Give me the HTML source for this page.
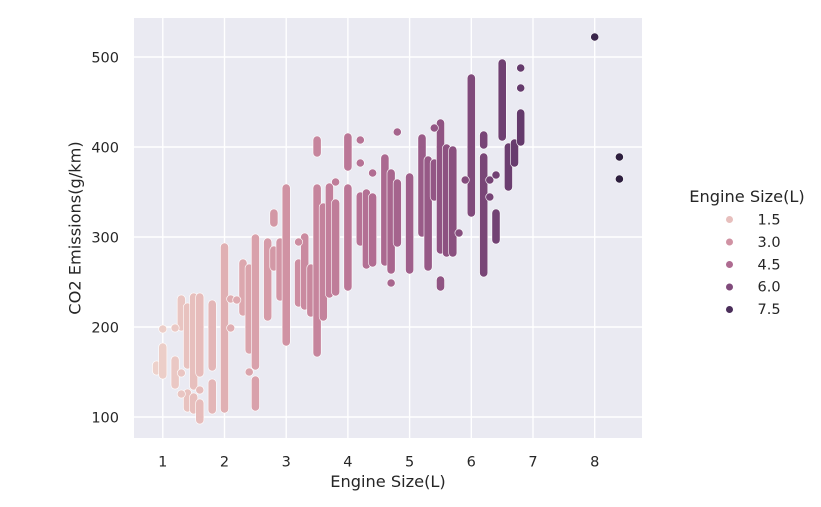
<!DOCTYPE html>
<html>
<head>
<meta charset="utf-8">
<style>
  html,body{margin:0;padding:0;background:#ffffff;}
  svg{display:block;}
  text{font-family:"DejaVu Sans","Liberation Sans",sans-serif;fill:#262626;}
</style>
</head>
<body>
<svg width="821" height="507" viewBox="0 0 821 507" xmlns="http://www.w3.org/2000/svg">
  <rect x="0" y="0" width="821" height="507" fill="#ffffff"/>
  <rect x="134" y="18" width="508" height="420" fill="#eaeaf2"/>
  <g stroke="#ffffff" stroke-width="1.4">
    <line x1="162.8" y1="18" x2="162.8" y2="438"/>
    <line x1="224.5" y1="18" x2="224.5" y2="438"/>
    <line x1="286.2" y1="18" x2="286.2" y2="438"/>
    <line x1="347.9" y1="18" x2="347.9" y2="438"/>
    <line x1="409.6" y1="18" x2="409.6" y2="438"/>
    <line x1="471.3" y1="18" x2="471.3" y2="438"/>
    <line x1="533.0" y1="18" x2="533.0" y2="438"/>
    <line x1="594.7" y1="18" x2="594.7" y2="438"/>
    <line x1="134" y1="57" x2="642" y2="57"/>
    <line x1="134" y1="147" x2="642" y2="147"/>
    <line x1="134" y1="237" x2="642" y2="237"/>
    <line x1="134" y1="327" x2="642" y2="327"/>
    <line x1="134" y1="417" x2="642" y2="417"/>
  </g>

  <g fill="none" stroke-linecap="round">
    <path d="M156.6 365V371" stroke="#fff" stroke-width="8.8"/><path d="M156.6 365V371" stroke="#edd1cb" stroke-width="7.6"/>
    <path d="M162.8 347V375" stroke="#fff" stroke-width="8.8"/><path d="M162.8 347V375" stroke="#eccec8" stroke-width="7.6"/>
    <path d="M175.1 360V385" stroke="#fff" stroke-width="8.8"/><path d="M175.1 360V385" stroke="#eac8c4" stroke-width="7.6"/>
    <path d="M181.3 299V327" stroke="#fff" stroke-width="8.8"/><path d="M181.3 299V327" stroke="#e9c5c2" stroke-width="7.6"/>
    <path d="M187.5 307V365M187.5 393V408" stroke="#fff" stroke-width="8.8"/><path d="M187.5 307V365M187.5 393V408" stroke="#e8c2bf" stroke-width="7.6"/>
    <path d="M193.7 297V386M193.7 397V410" stroke="#fff" stroke-width="8.8"/><path d="M193.7 297V386M193.7 397V410" stroke="#e7bfbd" stroke-width="7.6"/>
    <path d="M199.8 297V373M199.8 403V420" stroke="#fff" stroke-width="8.8"/><path d="M199.8 297V373M199.8 403V420" stroke="#e6bcbb" stroke-width="7.6"/>
    <path d="M212.2 304V367M212.2 383V410" stroke="#fff" stroke-width="8.8"/><path d="M212.2 304V367M212.2 383V410" stroke="#e3b6b7" stroke-width="7.6"/>
    <path d="M224.5 247V409" stroke="#fff" stroke-width="8.8"/><path d="M224.5 247V409" stroke="#e0b0b3" stroke-width="7.6"/>
    <path d="M243.0 263V312" stroke="#fff" stroke-width="8.8"/><path d="M243.0 263V312" stroke="#dca7ae" stroke-width="7.6"/>
    <path d="M249.2 268V350" stroke="#fff" stroke-width="8.8"/><path d="M249.2 268V350" stroke="#daa4ac" stroke-width="7.6"/>
    <path d="M255.4 238V366M255.4 380V407" stroke="#fff" stroke-width="8.8"/><path d="M255.4 238V366M255.4 380V407" stroke="#d9a1ab" stroke-width="7.6"/>
    <path d="M267.7 242V317" stroke="#fff" stroke-width="8.8"/><path d="M267.7 242V317" stroke="#d59ba8" stroke-width="7.6"/>
    <path d="M273.9 213V223M273.9 250V267" stroke="#fff" stroke-width="8.8"/><path d="M273.9 213V223M273.9 250V267" stroke="#d398a6" stroke-width="7.6"/>
    <path d="M280.1 242V297" stroke="#fff" stroke-width="8.8"/><path d="M280.1 242V297" stroke="#d295a5" stroke-width="7.6"/>
    <path d="M286.2 188V342" stroke="#fff" stroke-width="8.8"/><path d="M286.2 188V342" stroke="#d092a3" stroke-width="7.6"/>
    <path d="M298.6 263V303" stroke="#fff" stroke-width="8.8"/><path d="M298.6 263V303" stroke="#cc8da1" stroke-width="7.6"/>
    <path d="M304.7 237V306" stroke="#fff" stroke-width="8.8"/><path d="M304.7 237V306" stroke="#ca8aa0" stroke-width="7.6"/>
    <path d="M310.9 268V313" stroke="#fff" stroke-width="8.8"/><path d="M310.9 268V313" stroke="#c8889e" stroke-width="7.6"/>
    <path d="M317.1 140V153M317.1 188V353" stroke="#fff" stroke-width="8.8"/><path d="M317.1 140V153M317.1 188V353" stroke="#c6859d" stroke-width="7.6"/>
    <path d="M323.3 207V317" stroke="#fff" stroke-width="8.8"/><path d="M323.3 207V317" stroke="#c4829c" stroke-width="7.6"/>
    <path d="M329.4 187V294" stroke="#fff" stroke-width="8.8"/><path d="M329.4 187V294" stroke="#c27f9b" stroke-width="7.6"/>
    <path d="M335.6 203V292" stroke="#fff" stroke-width="8.8"/><path d="M335.6 203V292" stroke="#bf7d99" stroke-width="7.6"/>
    <path d="M347.9 137V167M347.9 188V287" stroke="#fff" stroke-width="8.8"/><path d="M347.9 137V167M347.9 188V287" stroke="#bb7797" stroke-width="7.6"/>
    <path d="M360.3 196V242" stroke="#fff" stroke-width="8.8"/><path d="M360.3 196V242" stroke="#b67295" stroke-width="7.6"/>
    <path d="M366.4 193V265" stroke="#fff" stroke-width="8.8"/><path d="M366.4 193V265" stroke="#b37094" stroke-width="7.6"/>
    <path d="M372.6 197V263" stroke="#fff" stroke-width="8.8"/><path d="M372.6 197V263" stroke="#b16d92" stroke-width="7.6"/>
    <path d="M384.9 158V262" stroke="#fff" stroke-width="8.8"/><path d="M384.9 158V262" stroke="#ab6990" stroke-width="7.6"/>
    <path d="M391.1 173V270" stroke="#fff" stroke-width="8.8"/><path d="M391.1 173V270" stroke="#a8668e" stroke-width="7.6"/>
    <path d="M397.3 183V243" stroke="#fff" stroke-width="8.8"/><path d="M397.3 183V243" stroke="#a5648d" stroke-width="7.6"/>
    <path d="M409.6 177V270" stroke="#fff" stroke-width="8.8"/><path d="M409.6 177V270" stroke="#9f5f8b" stroke-width="7.6"/>
    <path d="M422.0 138V233" stroke="#fff" stroke-width="8.8"/><path d="M422.0 138V233" stroke="#995b88" stroke-width="7.6"/>
    <path d="M428.1 160V267" stroke="#fff" stroke-width="8.8"/><path d="M428.1 160V267" stroke="#965986" stroke-width="7.6"/>
    <path d="M434.3 163V197" stroke="#fff" stroke-width="8.8"/><path d="M434.3 163V197" stroke="#935685" stroke-width="7.6"/>
    <path d="M440.5 123V250M440.5 280V287" stroke="#fff" stroke-width="8.8"/><path d="M440.5 123V250M440.5 280V287" stroke="#905483" stroke-width="7.6"/>
    <path d="M446.6 148V253" stroke="#fff" stroke-width="8.8"/><path d="M446.6 148V253" stroke="#8d5281" stroke-width="7.6"/>
    <path d="M452.8 150V253" stroke="#fff" stroke-width="8.8"/><path d="M452.8 150V253" stroke="#8a507f" stroke-width="7.6"/>
    <path d="M471.3 78V213" stroke="#fff" stroke-width="8.8"/><path d="M471.3 78V213" stroke="#804a7b" stroke-width="7.6"/>
    <path d="M483.7 135V145M483.7 157V273" stroke="#fff" stroke-width="8.8"/><path d="M483.7 135V145M483.7 157V273" stroke="#794677" stroke-width="7.6"/>
    <path d="M496.0 213V240" stroke="#fff" stroke-width="8.8"/><path d="M496.0 213V240" stroke="#724274" stroke-width="7.6"/>
    <path d="M502.2 63V137" stroke="#fff" stroke-width="8.8"/><path d="M502.2 63V137" stroke="#6f4072" stroke-width="7.6"/>
    <path d="M508.4 147V187" stroke="#fff" stroke-width="8.8"/><path d="M508.4 147V187" stroke="#6b3e70" stroke-width="7.6"/>
    <path d="M514.5 143V163" stroke="#fff" stroke-width="8.8"/><path d="M514.5 143V163" stroke="#683c6e" stroke-width="7.6"/>
    <path d="M520.7 113V142" stroke="#fff" stroke-width="8.8"/><path d="M520.7 113V142" stroke="#643a6c" stroke-width="7.6"/>
  </g>

  <g stroke="#ffffff" stroke-width="0.6">
    <circle cx="162.8" cy="329" r="4.1" fill="#eccec8"/>
    <circle cx="175.1" cy="328" r="4.1" fill="#eac8c4"/>
    <circle cx="181.3" cy="373" r="4.1" fill="#e9c5c2"/>
    <circle cx="181.3" cy="394" r="4.1" fill="#e9c5c2"/>
    <circle cx="199.8" cy="390" r="4.1" fill="#e6bcbb"/>
    <circle cx="230.7" cy="299" r="4.1" fill="#dfadb1"/>
    <circle cx="230.7" cy="328" r="4.1" fill="#dfadb1"/>
    <circle cx="236.8" cy="300" r="4.1" fill="#deaab0"/>
    <circle cx="249.2" cy="372" r="4.1" fill="#daa4ac"/>
    <circle cx="298.6" cy="242" r="4.1" fill="#cc8da1"/>
    <circle cx="335.6" cy="182" r="4.1" fill="#bf7d99"/>
    <circle cx="360.3" cy="140" r="4.1" fill="#b67295"/>
    <circle cx="360.3" cy="163" r="4.1" fill="#b67295"/>
    <circle cx="372.6" cy="173" r="4.1" fill="#b16d92"/>
    <circle cx="391.1" cy="283" r="4.1" fill="#a8668e"/>
    <circle cx="397.3" cy="132" r="4.1" fill="#a5648d"/>
    <circle cx="434.3" cy="128" r="4.1" fill="#935685"/>
    <circle cx="459.0" cy="233" r="4.1" fill="#864e7e"/>
    <circle cx="465.2" cy="180" r="4.1" fill="#834c7c"/>
    <circle cx="489.8" cy="180" r="4.1" fill="#764476"/>
    <circle cx="489.8" cy="197" r="4.1" fill="#764476"/>
    <circle cx="496.0" cy="175" r="4.1" fill="#724274"/>
    <circle cx="520.7" cy="68" r="4.1" fill="#643a6c"/>
    <circle cx="520.7" cy="88" r="4.1" fill="#643a6c"/>
    <circle cx="594.7" cy="37" r="4.1" fill="#3a254b"/>
    <circle cx="619.4" cy="157" r="4.1" fill="#2d1e3e"/>
    <circle cx="619.4" cy="179" r="4.1" fill="#2d1e3e"/>
  </g>

  <g font-size="14.5" text-anchor="middle">
    <text x="162.8" y="466.5">1</text>
    <text x="224.5" y="466.5">2</text>
    <text x="286.2" y="466.5">3</text>
    <text x="347.9" y="466.5">4</text>
    <text x="409.6" y="466.5">5</text>
    <text x="471.3" y="466.5">6</text>
    <text x="533.0" y="466.5">7</text>
    <text x="594.7" y="466.5">8</text>
  </g>
  <g font-size="14.5" text-anchor="end">
    <text x="119" y="62.3">500</text>
    <text x="119" y="152.3">400</text>
    <text x="119" y="242.3">300</text>
    <text x="119" y="332.3">200</text>
    <text x="119" y="422.3">100</text>
  </g>
  <text x="388" y="487" font-size="16.2" text-anchor="middle">Engine Size(L)</text>
  <text transform="translate(80.5,228) rotate(-90)" x="0" y="0" font-size="16.2" text-anchor="middle">CO2 Emissions(g/km)</text>

  <text x="747" y="202" font-size="16.2" text-anchor="middle">Engine Size(L)</text>
  <g stroke="#ffffff" stroke-width="0.6">
    <circle cx="729.5" cy="219.5" r="3.8" fill="#e7bfbd"/>
    <circle cx="729.5" cy="242" r="3.8" fill="#d092a3"/>
    <circle cx="729.5" cy="264.5" r="3.8" fill="#ae6b91"/>
    <circle cx="729.5" cy="287" r="3.8" fill="#804a7b"/>
    <circle cx="729.5" cy="309.5" r="3.8" fill="#4b2e5a"/>
  </g>
  <g font-size="14.5">
    <text x="757.5" y="224.5">1.5</text>
    <text x="757.5" y="247">3.0</text>
    <text x="757.5" y="269.3">4.5</text>
    <text x="757.5" y="291.7">6.0</text>
    <text x="757.5" y="314">7.5</text>
  </g>
</svg>
</body>
</html>
